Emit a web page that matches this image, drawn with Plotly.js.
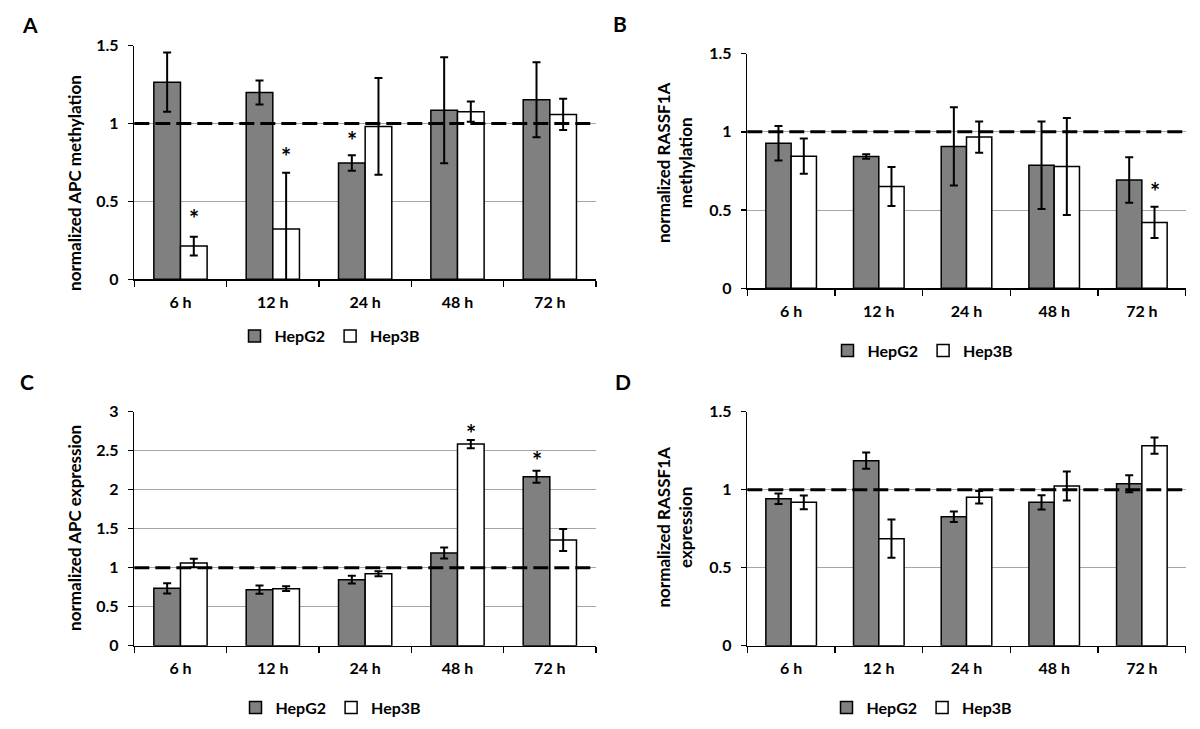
<!DOCTYPE html>
<html>
<head>
<meta charset="utf-8">
<script src="https://cdn.plot.ly/plotly-3.0.1.min.js"></script>
<style>html,body{margin:0;padding:0;background:#fff;}#chart{width:1200px;height:729px;}</style>
</head>
<body>
<div id="chart"></div>
<script>
// ---------- data ----------
const categories = ['6 h', '12 h', '24 h', '48 h', '72 h'];
const seriesNames = ['HepG2', 'Hep3B'];
const refLevel = 1;

// A: normalized APC methylation
const apcMethHepG2 = [1.265, 1.199, 0.746, 1.085, 1.152];
const apcMethHepG2Err = [0.19, 0.077, 0.05, 0.34, 0.24];
const apcMethHep3B = [0.213, 0.323, 0.981, 1.075, 1.058];
const apcMethHep3BErr = [0.06, 0.36, 0.31, 0.065, 0.10];
const sigA = [['6 h', 'Hep3B', 0.42], ['12 h', 'Hep3B', 0.82], ['24 h', 'HepG2', 0.92]];

// B: normalized RASSF1A methylation
const rassfMethHepG2 = [0.927, 0.842, 0.906, 0.786, 0.692];
const rassfMethHepG2Err = [0.11, 0.014, 0.25, 0.28, 0.146];
const rassfMethHep3B = [0.844, 0.65, 0.966, 0.778, 0.421];
const rassfMethHep3BErr = [0.113, 0.125, 0.10, 0.31, 0.10];
const sigB = [['72 h', 'Hep3B', 0.65]];

// C: normalized APC expression
const apcExpHepG2 = [0.735, 0.718, 0.846, 1.188, 2.167];
const apcExpHepG2Err = [0.065, 0.053, 0.05, 0.07, 0.077];
const apcExpHep3B = [1.06, 0.731, 0.923, 2.585, 1.355];
const apcExpHep3BErr = [0.055, 0.03, 0.032, 0.053, 0.14];
const sigC = [['48 h', 'Hep3B', 2.79], ['72 h', 'HepG2', 2.44]];

// D: normalized RASSF1A expression
const rassfExpHepG2 = [0.942, 1.186, 0.827, 0.919, 1.038];
const rassfExpHepG2Err = [0.034, 0.052, 0.034, 0.046, 0.055];
const rassfExpHep3B = [0.919, 0.686, 0.951, 1.024, 1.282];
const rassfExpHep3BErr = [0.044, 0.123, 0.04, 0.093, 0.052];
const sigD = [];

// ---------- layout helpers ----------
const W = 1200, H = 729;
const px = v => v / W;
const py = v => 1 - v / H;
const FONT = 'Lato, "Open Sans", sans-serif';
const BARGAP = 0.423;
const fills = ['#808080', '#ffffff'];

const panels = [
  {id: '', letter: 'A', title: 'normalized APC methylation', g2: apcMethHepG2, g2e: apcMethHepG2Err, b3: apcMethHep3B, b3e: apcMethHep3BErr, sig: sigA,
   yMax: 1.5, dom: {x: [134.3, 596], y: [279.3, 45.5]}, titlePos: [74.4, 182.5], letterPos: [29.5, 24.5], legendPos: [330, 336]},
  {id: '2', letter: 'B', title: 'normalized RASSF1A<br>methylation', g2: rassfMethHepG2, g2e: rassfMethHepG2Err, b3: rassfMethHep3B, b3e: rassfMethHep3BErr, sig: sigB,
   yMax: 1.5, dom: {x: [747.3, 1185.7], y: [288.3, 53.5]}, titlePos: [674, 163], letterPos: [620, 23.3], legendPos: [923, 350.7]},
  {id: '3', letter: 'C', title: 'normalized APC expression', g2: apcExpHepG2, g2e: apcExpHepG2Err, b3: apcExpHep3B, b3e: apcExpHep3BErr, sig: sigC,
   yMax: 3, dom: {x: [134.3, 596], y: [645.7, 411.7]}, titlePos: [74.4, 527.5], letterPos: [27.5, 381.7], legendPos: [331, 707.7]},
  {id: '4', letter: 'D', title: 'normalized RASSF1A<br>expression', g2: rassfExpHepG2, g2e: rassfExpHepG2Err, b3: rassfExpHep3B, b3e: rassfExpHep3BErr, sig: sigD,
   yMax: 1.5, dom: {x: [747.3, 1185.7], y: [645.7, 411.7]}, titlePos: [674, 527.5], letterPos: [622.5, 381.7], legendPos: [922, 707.7]}
];

const data = [];
const layout = {
  width: W, height: H,
  margin: {l: 0, r: 0, t: 0, b: 0},
  paper_bgcolor: '#fff', plot_bgcolor: 'rgba(0,0,0,0)',
  font: {family: FONT, size: 16, color: '#000', weight: 700},
  barmode: 'group', bargap: BARGAP, bargroupgap: 0,
  showlegend: true,
  annotations: [], shapes: []
};

const half = (1 - BARGAP) / 4;

panels.forEach((p, i) => {
  const xa = 'x' + p.id, ya = 'y' + p.id;
  const xKey = 'xaxis' + p.id, yKey = 'yaxis' + p.id;
  const legKey = 'legend' + p.id;
  const vals = [[p.g2, p.g2e], [p.b3, p.b3e]];
  vals.forEach((v, s) => {
    data.push({
      type: 'bar', name: seriesNames[s], x: categories, y: v[0],
      xaxis: xa, yaxis: ya, legend: legKey,
      marker: {color: fills[s], line: {color: '#000', width: 1.5}},
      error_y: {type: 'data', array: v[1], visible: true, color: '#000', thickness: 2, width: 4},
      hoverinfo: 'skip'
    });
  });
  layout[xKey] = {
    domain: [px(p.dom.x[0]), px(p.dom.x[1])], anchor: ya,
    type: 'category', tickson: 'boundaries', ticks: 'outside', ticklen: 6, tickwidth: 1.5, tickcolor: '#000',
    showline: true, linecolor: '#000', linewidth: 1.5, showgrid: false, zeroline: false,
    ticklabelstandoff: 8, tickfont: {family: FONT, size: 16, weight: 700}, fixedrange: true
  };
  layout[yKey] = {
    domain: [py(p.dom.y[0]), py(p.dom.y[1])], anchor: xa,
    range: [0, p.yMax], dtick: 0.5, tick0: 0, ticks: 'outside', ticklen: 5, tickwidth: 1.5, tickcolor: '#000',
    showline: true, linecolor: '#000', linewidth: 1.5, showgrid: true, gridcolor: '#a6a6a6', gridwidth: 1,
    zeroline: false, ticklabelstandoff: 6, tickfont: {family: FONT, size: 16, weight: 700}, fixedrange: true
  };
  layout[legKey] = {
    x: px(p.legendPos[0]), y: py(p.legendPos[1]), xanchor: 'center', yanchor: 'middle',
    orientation: 'h', bgcolor: 'rgba(0,0,0,0)', itemwidth: 30,
    font: {family: FONT, size: 16, weight: 700, color: '#000'}
  };
  // reference dashed line at normalization level
  layout.shapes.push({
    type: 'line', xref: xa + ' domain', yref: ya, x0: 0, x1: 1, y0: refLevel, y1: refLevel,
    line: {color: '#000', width: 3, dash: '15px,6px'}, layer: 'above'
  });
  // y title
  layout.annotations.push({
    xref: 'paper', yref: 'paper', x: px(p.titlePos[0]), y: py(p.titlePos[1]),
    xanchor: 'center', yanchor: 'middle', textangle: -90, showarrow: false,
    text: p.title, font: {family: FONT, size: 17, weight: 700, color: '#000'}
  });
  // panel letter
  layout.annotations.push({
    xref: 'paper', yref: 'paper', x: px(p.letterPos[0]), y: py(p.letterPos[1]),
    xanchor: 'center', yanchor: 'middle', showarrow: false,
    text: p.letter, font: {family: FONT, size: 21, weight: 700, color: '#000'}
  });
  // significance asterisks
  p.sig.forEach(sg => {
    const ci = categories.indexOf(sg[0]);
    const off = sg[1] === 'HepG2' ? -half : half;
    layout.annotations.push({
      xref: xa, yref: ya, x: ci + off, y: sg[2], xanchor: 'center', yanchor: 'middle',
      yshift: -5, showarrow: false, text: '*',
      font: {family: FONT, size: 24, weight: 700, color: '#000'}
    });
  });
});

Plotly.newPlot('chart', data, layout, {staticPlot: true, displayModeBar: false});
</script>
</body>
</html>
